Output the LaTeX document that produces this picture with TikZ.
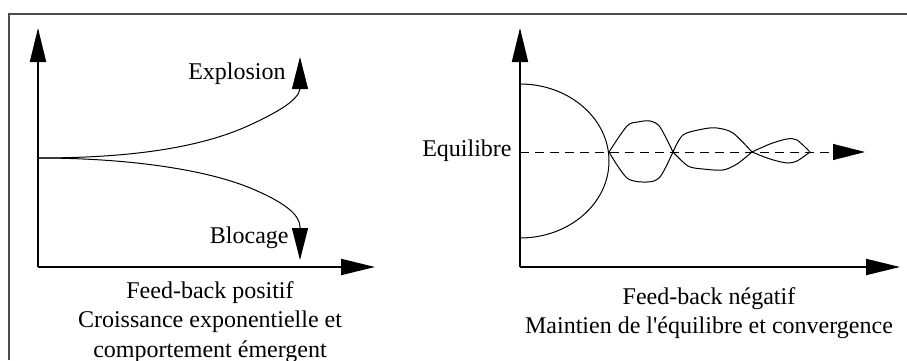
\documentclass[tikz,border=0pt]{standalone}
\usepackage{fontspec}
\setmainfont{Liberation Serif}
\usepackage{tikz}
\usetikzlibrary{positioning}
\usetikzlibrary{arrows.meta}
\tikzset{
axis/.style={line width=1pt, -{Triangle[length=17pt,width=8pt]}},
trend/.style={line width=0.5pt, -{Triangle[length=16pt,width=8pt]}},
loop_line/.style={line width=0.5pt},
frame_line/.style={line width=0.8pt, color=black!70},
label/.style={rectangle, inner sep=4pt, font=\fontsize{12}{14.8}\selectfont},
caption/.style={rectangle, align=center, inner sep=0pt, font=\fontsize{12}{14.8}\selectfont}
}

\begin{document}
\begin{tikzpicture}[x=0.5pt, y=0.5pt]
    \useasboundingbox (0,0) rectangle (907,360);
    \draw[frame_line] (9,0) -- (9,346) -- (907,346);

    % feed-back positif
    \coordinate (origin_pos) at (38,93);
    \coordinate (ytip_pos) at (38,332);
    \coordinate (xtip_pos) at (375,93);
    \coordinate (start_pos) at (38,202);
    \coordinate (up_tip) at (300,303);
    \coordinate (down_tip) at (300,100);
    \draw[axis] (origin_pos) -- (ytip_pos);
    \draw[axis] (origin_pos) -- (xtip_pos);
    \draw[trend] (start_pos) .. controls (130,202) and (200,212) .. (250,235)
        .. controls (280,249) and (298,260) .. (300,271) -- (up_tip);
    \draw[trend] (start_pos) .. controls (130,202) and (210,190) .. (255,170)
        .. controls (285,157) and (300,145) .. (300,133) -- (down_tip);
    \node[label] (explosion) [left=3pt of {(300,286)}] {Explosion};
    \node[label] (blocage) [left=1.5pt of {(300,122)}] {Blocage};
    \node[caption] (caption_pos) at (210,38) {Feed-back positif\\Croissance exponentielle et\\comportement émergent};

    % feed-back negatif
    \coordinate (origin_neg) at (520,93);
    \coordinate (ytip_neg) at (520,332);
    \coordinate (xtip_neg) at (900,93);
    \coordinate (eq_start) at (520,208);
    \coordinate (eq_tip) at (865,208);
    \draw[axis] (origin_neg) -- (ytip_neg);
    \draw[axis] (origin_neg) -- (xtip_neg);
    \draw[trend, dash pattern=on 4.5pt off 3pt] (eq_start) -- (eq_tip);
    \node[label] (equilibre) [left=0pt of {(520,209)}] {Equilibre};
    \draw[loop_line] (520,276) arc[start angle=90, end angle=-90, x radius=89, y radius=77];
    % oscillations
    \draw[loop_line] plot[smooth, tension=0.5] coordinates {(609,208) (627,234) (638,238) (650,239) (660,233) (673,208)};
    \draw[loop_line] plot[smooth, tension=0.5] coordinates {(609,208) (627,182) (647,178) (660,183) (673,208)};
    \draw[loop_line] plot[smooth, tension=0.5] coordinates {(673,208) (683,225) (703,231) (717,232) (733,227) (752,208)};
    \draw[loop_line] plot[smooth, tension=0.5] coordinates {(673,208) (688,194) (703,191) (723,190) (737,196) (752,208)};
    \draw[loop_line] plot[smooth, tension=0.5] coordinates {(752,208) (770,216) (787,221) (797,220) (810,208)};
    \draw[loop_line] plot[smooth, tension=0.5] coordinates {(752,208) (770,201) (787,197) (797,199) (810,208)};
    \node[caption] (caption_neg) at (709,47) {Feed-back négatif\\Maintien de l\textquotesingle équilibre et convergence};
\end{tikzpicture}
\end{document}
